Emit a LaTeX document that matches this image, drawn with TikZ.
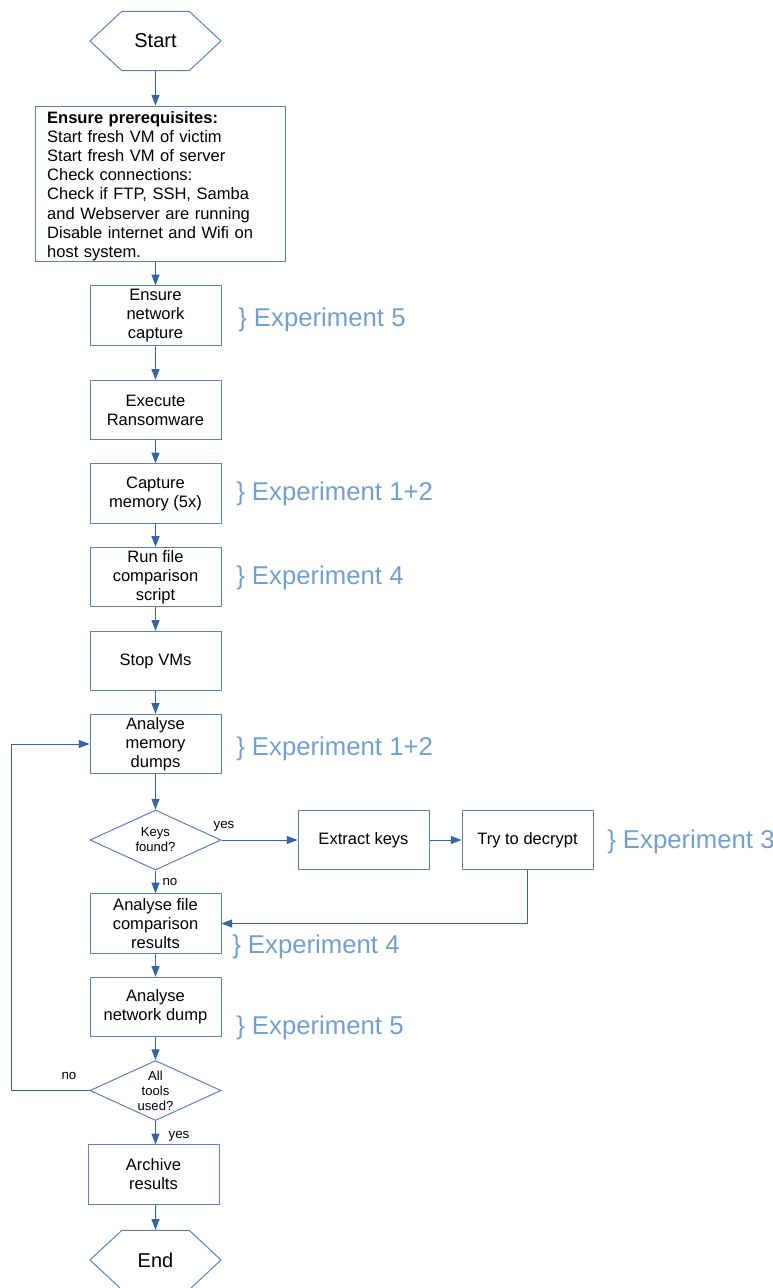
\documentclass[tikz,border=0pt]{standalone}
\usepackage{fontspec}
\setmainfont{Liberation Sans}
\usetikzlibrary{arrows.meta, shapes.geometric, shapes.symbols}
\definecolor{lineblue}{RGB}{52,101,164}
\definecolor{shapeblue}{RGB}{92,128,192}
\definecolor{expblue}{RGB}{114,159,207}

\begin{document}
\begin{tikzpicture}[x=0.75pt, y=-0.75pt,
	box/.style={draw=shapeblue, line width=0.75pt, minimum width=98.25pt, minimum height=44.5pt, inner sep=1pt, align=center, font=\fontsize{12.4}{14.3}\selectfont},
	term/.style={draw=shapeblue, line width=0.75pt, signal, signal to=east and west, signal pointer angle=86, minimum width=98.25pt, minimum height=44.5pt, inner sep=1pt, font=\fontsize{15}{17}\selectfont},
	test/.style={draw=shapeblue, line width=0.75pt, diamond, aspect=2.2, minimum width=98.25pt, minimum height=45pt, inner sep=0pt, align=center, font=\fontsize{9.8}{11.3}\selectfont},
	lbl/.style={inner sep=0pt, font=\fontsize{10}{12}\selectfont},
	exp/.style={anchor=west, inner sep=0pt, text=expblue, font=\fontsize{19.3}{22}\selectfont},
	flow/.style={draw=lineblue, line width=0.75pt, -{Triangle[length=8pt, width=6pt]}}]
	\useasboundingbox (0,0) rectangle (773,1288);

	% main column
	\node[term] (start) at (155.5,41) {Start};
	\node[box, align=left, text width=170pt, inner xsep=9pt, inner ysep=0pt, minimum height=116.25pt] (prereq) at (160.5,183.5)
		{\rule{0pt}{13pt}\textbf{Ensure prerequisites:}\\Start fresh VM of victim\\Start fresh VM of server\\Check connections:\\Check if FTP, SSH, Samba\\and Webserver are running\\Disable internet and Wifi on\\host system.};
	\node[box] (netcap) at (155.5,315.5) {Ensure\\network\\capture};
	\node[box] (execute) at (155.5,410) {Execute\\Ransomware};
	\node[box] (memcap) at (155.5,493.5) {Capture\\memory (5x)};
	\node[box] (compare) at (155.5,577) {Run file\\comparison\\script};
	\node[box] (stopvm) at (155.5,661) {Stop VMs};
	\node[box] (memdump) at (155.5,744) {Analyse\\memory\\dumps};
	\node[test] (keys) at (155.5,840) {Keys\\found?};
	\node[box] (extract) at (363.5,840) {Extract keys};
	\node[box] (decrypt) at (527.5,840) {Try to decrypt};
	\node[box] (fileres) at (155.5,923.5) {Analyse file\\comparison\\results};
	\node[box] (netdump) at (155.5,1007) {Analyse\\network dump};
	\node[test] (tools) at (155.5,1090.5) {All\\tools\\used?};
	\node[box] (archive) at (153.5,1174.5) {Archive\\results};
	\node[term] (end) at (155.5,1260) {End};

	% experiments
	\node[exp] (exp5a) at (238,320) {\} Experiment 5};
	\node[exp] (exp12a) at (236,494) {\} Experiment 1+2};
	\node[exp] (exp4a) at (236,578) {\} Experiment 4};
	\node[exp] (exp12b) at (236,749) {\} Experiment 1+2};
	\node[exp] (exp3) at (607,842) {\} Experiment 3};
	\node[exp] (exp4b) at (232,947) {\} Experiment 4};
	\node[exp] (exp5b) at (236,1028) {\} Experiment 5};

	% connectors
	\draw[flow] (start.south) -- (start.south |- prereq.north);
	\draw[flow] (netcap.north |- prereq.south) -- (netcap.north);
	\draw[flow] (netcap) -- (execute);
	\draw[flow] (execute) -- (memcap);
	\draw[flow] (memcap) -- (compare);
	\draw[flow] (compare) -- (stopvm);
	\draw[flow] (stopvm) -- (memdump);
	\draw[flow] (memdump) -- (keys);
	\draw[flow] (keys) -- (extract);
	\draw[flow] (extract) -- (decrypt);
	\draw[flow] (keys) -- (fileres);
	\draw[flow] (decrypt.south) |- (fileres.east);
	\draw[flow] (fileres) -- (netdump);
	\draw[flow] (netdump) -- (tools);
	\coordinate (back) at (11,1090.5);
	\draw[flow] (tools.west) -- (back) |- (memdump.west);
	\draw[flow] (tools.south) -- (tools.south |- archive.north);
	\draw[flow] (tools.south |- archive.south) -- (end);

	\node[lbl] (yes1) at (224,826) {yes};
	\node[lbl] (no1) at (170,882) {no};
	\node[lbl] (no2) at (69,1076) {no};
	\node[lbl] (yes2) at (179,1136) {yes};

\end{tikzpicture}
\end{document}
